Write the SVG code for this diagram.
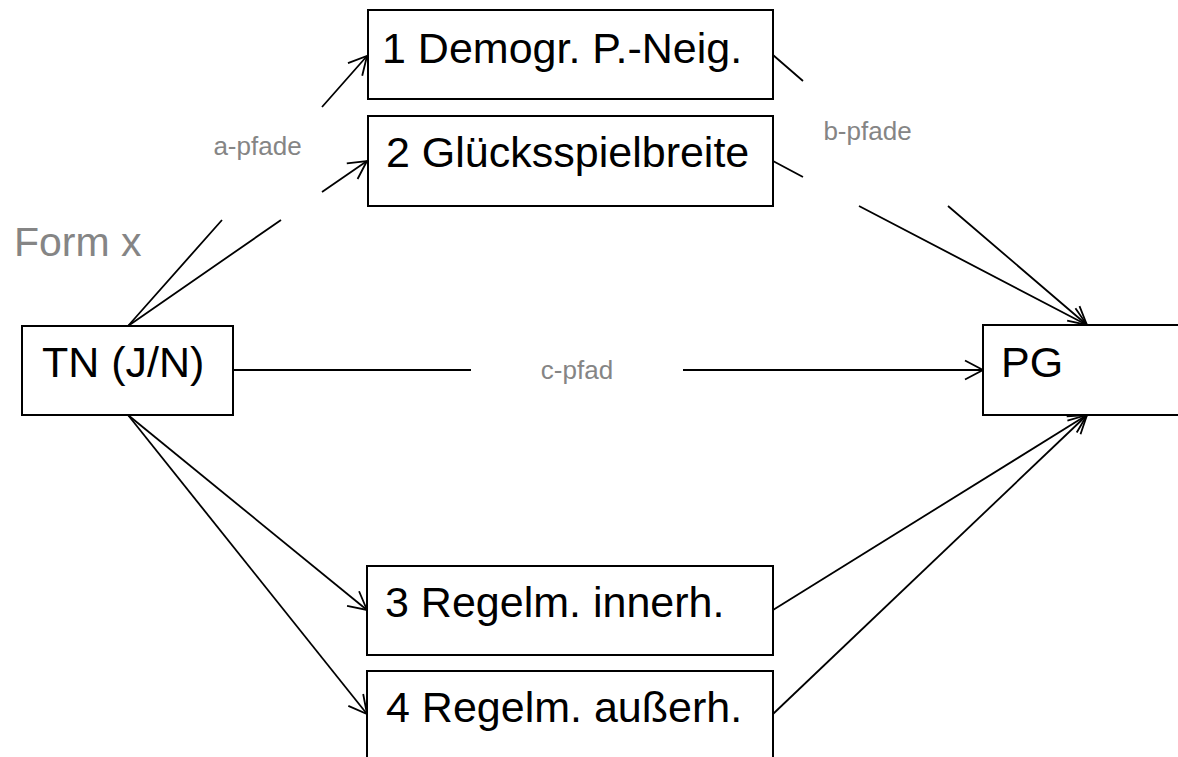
<svg xmlns="http://www.w3.org/2000/svg" width="1178" height="757" viewBox="0 0 1178 757">
<style>
.box{fill:#ffffff;stroke:#000000;stroke-width:2}
.lbl{font-family:"Liberation Sans",Arial,sans-serif;font-size:43px;fill:#000000}
.path{font-family:"Liberation Sans",Arial,sans-serif;font-size:26px;fill:#858585;text-anchor:middle}
.edge{fill:none;stroke:#000000;stroke-width:1.8;marker-end:url(#arr)}
</style>
<defs>
<marker id="arr" markerUnits="userSpaceOnUse" viewBox="-22 -12 24 24" markerWidth="24" markerHeight="24" refX="0" refY="0" orient="auto" overflow="visible">
<path d="M-18,-9.5 L0,0 L-18,9.5" fill="none" stroke="#000000" stroke-width="1.8"/>
</marker>
</defs>
<rect width="1178" height="757" fill="#ffffff"/>
<g id="connectors">
<path class="edge" d="M128,326 L222,220 M322,107 L367,56"/>
<path class="edge" d="M128,326 L281,220 M322,192 L367,161"/>
<path class="edge" d="M773,55 L803,81 M948,206 L1087,325"/>
<path class="edge" d="M773,161 L803,177 M859,206 L1087,325"/>
<path class="edge" d="M233,370 L471,370 M683,370 L983,370"/>
<path class="edge" d="M128,415 L367,610"/>
<path class="edge" d="M128,415 L367,714"/>
<path class="edge" d="M773,610 L1087,415"/>
<path class="edge" d="M773,714 L1087,415"/>
</g>
<g id="labels">
<text class="path" x="257.5" y="155">a-pfade</text>
<text class="path" x="867.5" y="140">b-pfade</text>
<text class="path" x="577" y="379">c-pfad</text>
<text x="14" y="256" font-family="'Liberation Sans',Arial,sans-serif" font-size="41" fill="#858585">Form x</text>
</g>
<g id="n1"><rect class="box" x="368" y="10" width="405" height="89"/><text class="lbl" x="382" y="63">1 Demogr. P.-Neig.</text></g>
<g id="n2"><rect class="box" x="368" y="116" width="405" height="90"/><text class="lbl" x="386" y="167">2 Glücksspielbreite</text></g>
<g id="tn"><rect class="box" x="22" y="326" width="211" height="89"/><text class="lbl" x="42" y="377">TN (J/N)</text></g>
<g id="pg"><rect class="box" x="983" y="325" width="210" height="90"/><text class="lbl" x="1001" y="377">PG</text></g>
<g id="n3"><rect class="box" x="367" y="566" width="406" height="89"/><text class="lbl" x="385" y="617">3 Regelm. innerh.</text></g>
<g id="n4"><rect class="box" x="367" y="671" width="406" height="95"/><text class="lbl" x="386" y="722">4 Regelm. außerh.</text></g>
</svg>
